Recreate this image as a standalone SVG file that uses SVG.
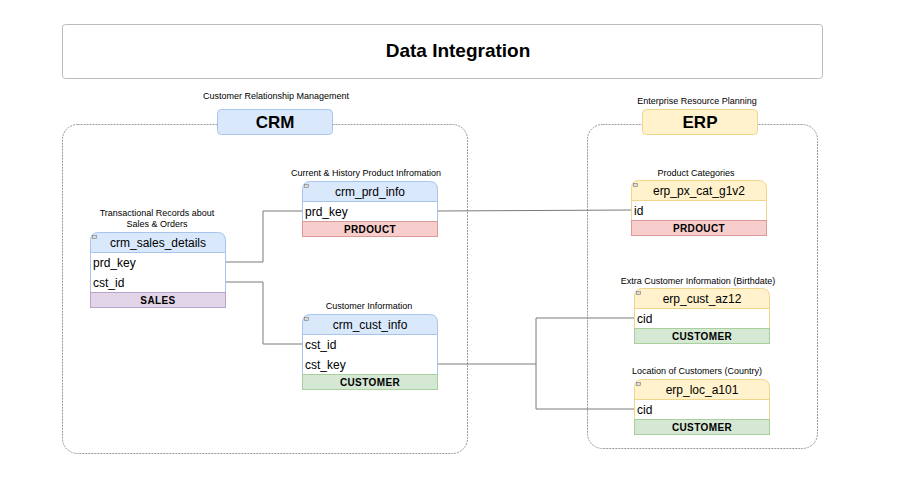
<svg xmlns="http://www.w3.org/2000/svg" width="923" height="490" viewBox="0 0 923 490">
<style>
text{font-family:"Liberation Sans",Arial,sans-serif;fill:#000}
.cap{font-size:9px;text-anchor:middle}
.hd{font-size:12px;text-anchor:middle}
.fd{font-size:12px}
.ft{font-size:10px;font-weight:bold;text-anchor:middle;letter-spacing:0.4px}
.body{fill:#fff}
.cont{fill:none;stroke:#999;stroke-width:1;stroke-dasharray:2 1}
.conn path{fill:none;stroke:#7a7a7a;stroke-width:1}
.bh{fill:#dae8fc;stroke:#a9c4eb}
.yh{fill:#fff2cc;stroke:#f0d68a}
.red{fill:#f8cecc;stroke:#d99a98}
.grn{fill:#d5e8d4;stroke:#a9cf9d}
.pur{fill:#e1d5e7;stroke:#b9a3c7}
.mn{fill:#ddd;stroke:#777;stroke-width:0.6}
</style>
<rect width="923" height="490" fill="#fff"/>
<g id="title">
<rect x="62.5" y="24.5" width="760" height="54" rx="3" fill="#fff" stroke="#bbb"/>
<text x="458" y="57" font-size="19" font-weight="bold" text-anchor="middle">Data Integration</text>
</g>
<g id="crm-group">
<rect class="cont" x="62.5" y="124.5" width="405" height="329" rx="15"/>
<rect class="bh" x="217.5" y="109.5" width="115" height="25" rx="4"/>
<text x="275" y="128" font-size="17" font-weight="bold" text-anchor="middle">CRM</text>
<text class="cap" x="276" y="99">Customer Relationship Management</text>
</g>
<g id="erp-group">
<rect class="cont" x="587.5" y="124.5" width="230" height="324" rx="15"/>
<rect class="yh" x="642.5" y="109.5" width="115" height="25" rx="4"/>
<text x="700" y="128" font-size="17" font-weight="bold" text-anchor="middle">ERP</text>
<text class="cap" x="697" y="104">Enterprise Resource Planning</text>
</g>
<g id="conn" class="conn">
<path d="M226 262H263V211H302"/>
<path d="M226 282H263V344H302"/>
<path d="M438 211L631 210"/>
<path d="M438 364H536V318H634"/>
<path d="M536 364V409H634"/>
</g>
<g id="crm_sales_details">
<text class="cap" x="157" y="216">Transactional Records about</text>
<text class="cap" x="157" y="227">Sales &amp; Orders</text>
<rect class="body" x="90.5" y="252.5" width="135" height="40" stroke="#a9c4eb"/>
<path class="bh" d="M90.5 252.5V240.5Q90.5 232.5 98.5 232.5H217.5Q225.5 232.5 225.5 240.5V252.5Z"/>
<rect class="mn" x="92.5" y="235.5" width="4" height="3"/>
<text class="hd" x="158" y="246.5">crm_sales_details</text>
<text class="fd" x="93" y="266.5">prd_key</text>
<text class="fd" x="93" y="286.5">cst_id</text>
<rect class="pur" x="90.5" y="292.5" width="135" height="15"/>
<text class="ft" x="158" y="303.5">SALES</text>
</g>
<g id="crm_prd_info">
<text class="cap" x="366" y="176">Current &amp; History Product Infromation</text>
<rect class="body" x="302.5" y="201.5" width="135" height="20" stroke="#a9c4eb"/>
<path class="bh" d="M302.5 201.5V189.5Q302.5 181.5 310.5 181.5H429.5Q437.5 181.5 437.5 189.5V201.5Z"/>
<rect class="mn" x="304.5" y="184.5" width="4" height="3"/>
<text class="hd" x="370" y="195.5">crm_prd_info</text>
<text class="fd" x="305" y="215.5">prd_key</text>
<rect class="red" x="302.5" y="221.5" width="135" height="15"/>
<text class="ft" x="370" y="232.5">PRDOUCT</text>
</g>
<g id="crm_cust_info">
<text class="cap" x="369" y="309">Customer Information</text>
<rect class="body" x="302.5" y="334.5" width="135" height="40" stroke="#a9c4eb"/>
<path class="bh" d="M302.5 334.5V322.5Q302.5 314.5 310.5 314.5H429.5Q437.5 314.5 437.5 322.5V334.5Z"/>
<rect class="mn" x="304.5" y="317.5" width="4" height="3"/>
<text class="hd" x="370" y="328.5">crm_cust_info</text>
<text class="fd" x="305" y="348.5">cst_id</text>
<text class="fd" x="305" y="368.5">cst_key</text>
<rect class="grn" x="302.5" y="374.5" width="135" height="15"/>
<text class="ft" x="370" y="385.5">CUSTOMER</text>
</g>
<g id="erp_px_cat_g1v2">
<text class="cap" x="696" y="176">Product Categories</text>
<rect class="body" x="631.5" y="200.5" width="135" height="20" stroke="#f0d68a"/>
<path class="yh" d="M631.5 200.5V188.5Q631.5 180.5 639.5 180.5H758.5Q766.5 180.5 766.5 188.5V200.5Z"/>
<rect class="mn" x="633.5" y="183.5" width="4" height="3"/>
<text class="hd" x="699" y="194.5">erp_px_cat_g1v2</text>
<text class="fd" x="634" y="214.5">id</text>
<rect class="red" x="631.5" y="220.5" width="135" height="15"/>
<text class="ft" x="699" y="231.5">PRDOUCT</text>
</g>
<g id="erp_cust_az12">
<text class="cap" x="698" y="284">Extra Customer Information (Birthdate)</text>
<rect class="body" x="634.5" y="308.5" width="135" height="20" stroke="#f0d68a"/>
<path class="yh" d="M634.5 308.5V296.5Q634.5 288.5 642.5 288.5H761.5Q769.5 288.5 769.5 296.5V308.5Z"/>
<rect class="mn" x="636.5" y="291.5" width="4" height="3"/>
<text class="hd" x="702" y="302.5">erp_cust_az12</text>
<text class="fd" x="637" y="322.5">cid</text>
<rect class="grn" x="634.5" y="328.5" width="135" height="15"/>
<text class="ft" x="702" y="339.5">CUSTOMER</text>
</g>
<g id="erp_loc_a101">
<text class="cap" x="697" y="374">Location of Customers (Country)</text>
<rect class="body" x="634.5" y="399.5" width="135" height="20" stroke="#f0d68a"/>
<path class="yh" d="M634.5 399.5V387.5Q634.5 379.5 642.5 379.5H761.5Q769.5 379.5 769.5 387.5V399.5Z"/>
<rect class="mn" x="636.5" y="382.5" width="4" height="3"/>
<text class="hd" x="702" y="393.5">erp_loc_a101</text>
<text class="fd" x="637" y="413.5">cid</text>
<rect class="grn" x="634.5" y="419.5" width="135" height="15"/>
<text class="ft" x="702" y="430.5">CUSTOMER</text>
</g>
</svg>
